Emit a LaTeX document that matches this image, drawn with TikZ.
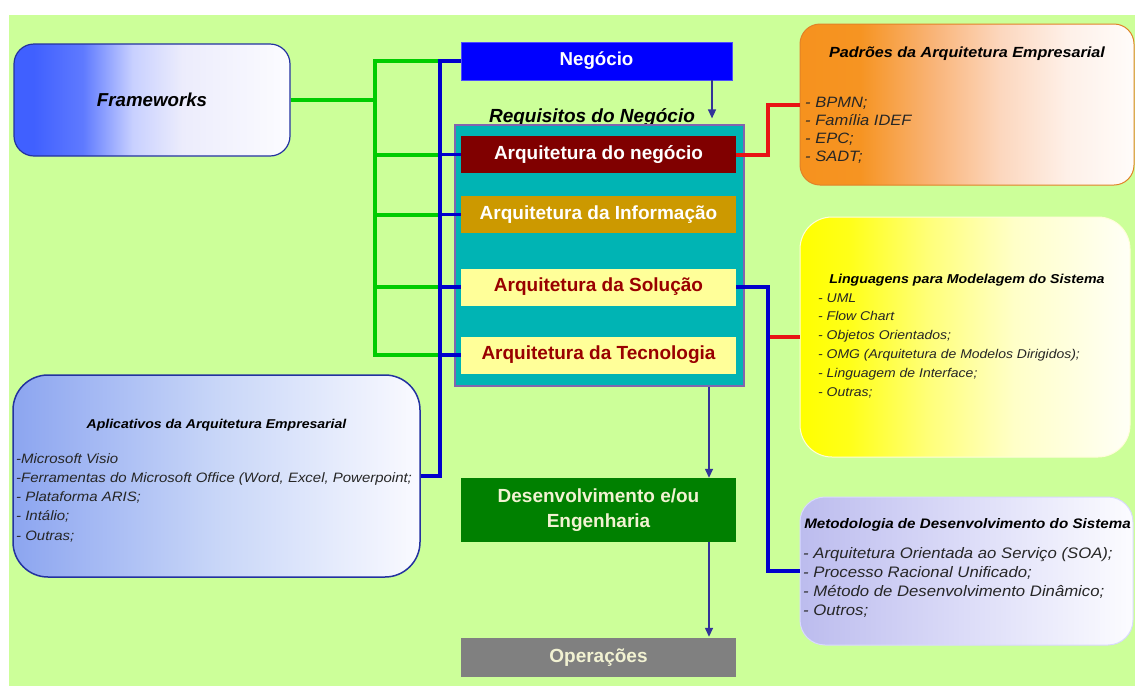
\documentclass[tikz,border=0pt]{standalone}
\usepackage{fontspec}
\setmainfont{Liberation Sans}
\newfontfamily\sidefont[FakeStretch=1.1]{Liberation Sans}
\usetikzlibrary{arrows.meta}

% palette
\definecolor{bggreen}{RGB}{204,255,153}
\definecolor{linkgreen}{RGB}{0,204,0}
\definecolor{linkblue}{RGB}{0,0,204}
\definecolor{linkred}{RGB}{232,20,20}
\definecolor{arrownavy}{RGB}{51,51,153}
\definecolor{negblue}{RGB}{0,0,255}
\definecolor{reqteal}{RGB}{0,180,180}
\definecolor{reqborder}{RGB}{130,100,175}
\definecolor{arqred}{RGB}{128,0,0}
\definecolor{arqgold}{RGB}{204,153,0}
\definecolor{arqyellow}{RGB}{255,255,153}
\definecolor{arqtext}{RGB}{153,0,0}
\definecolor{devgreen}{RGB}{0,128,0}
\definecolor{opgray}{RGB}{128,128,128}
\definecolor{cream}{RGB}{242,242,210}
\definecolor{itemgray}{RGB}{38,38,38}
\definecolor{fwborder}{RGB}{35,50,160}
\definecolor{padborder}{RGB}{225,130,40}

% gradient stops for the rounded boxes
\definecolor{fwA}{RGB}{64,96,255}
\definecolor{fwB}{RGB}{95,122,255}
\definecolor{fwC}{RGB}{200,208,255}
\definecolor{fwD}{RGB}{236,236,252}
\definecolor{fwE}{RGB}{252,252,255}
\pgfdeclarehorizontalshading{fwshade}{100bp}{color(0bp)=(fwA); color(28.5bp)=(fwA); color(37.5bp)=(fwB); color(46.5bp)=(fwC); color(55.5bp)=(fwD); color(75bp)=(fwE); color(100bp)=(fwE)}

\definecolor{paA}{RGB}{246,146,30}
\definecolor{paB}{RGB}{246,148,34}
\definecolor{paC}{RGB}{249,180,120}
\definecolor{paD}{RGB}{252,215,190}
\definecolor{paE}{RGB}{254,240,232}
\definecolor{paF}{RGB}{255,252,250}
\pgfdeclarehorizontalshading{padshade}{100bp}{color(0bp)=(paA); color(25bp)=(paA); color(34bp)=(paB); color(45bp)=(paC); color(55bp)=(paD); color(65bp)=(paE); color(75bp)=(paF); color(100bp)=(paF)}

\definecolor{lgA}{RGB}{255,255,0}
\definecolor{lgB}{RGB}{255,255,25}
\definecolor{lgC}{RGB}{255,255,125}
\definecolor{lgD}{RGB}{255,255,200}
\definecolor{lgE}{RGB}{255,255,246}
\pgfdeclarehorizontalshading{langshade}{100bp}{color(0bp)=(lgA); color(25bp)=(lgA); color(32.5bp)=(lgB); color(45bp)=(lgC); color(57.5bp)=(lgD); color(75bp)=(lgE); color(100bp)=(lgE)}

\definecolor{apA}{RGB}{140,165,240}
\definecolor{apB}{RGB}{200,214,248}
\definecolor{apC}{RGB}{250,250,255}
\pgfdeclarehorizontalshading{aplshade}{100bp}{color(0bp)=(apA); color(25bp)=(apA); color(50bp)=(apB); color(75bp)=(apC); color(100bp)=(apC)}

\definecolor{meA}{RGB}{188,188,238}
\definecolor{meB}{RGB}{220,220,248}
\definecolor{meC}{RGB}{252,252,255}
\pgfdeclarehorizontalshading{metshade}{100bp}{color(0bp)=(meA); color(25bp)=(meA); color(50bp)=(meB); color(75bp)=(meC); color(100bp)=(meC)}

\tikzset{
  flatbox/.style={rectangle, inner sep=0pt, minimum width=#1},
  arqbox/.style={flatbox=275pt, minimum height=37pt, font=\fontsize{19}{22}\selectfont\bfseries},
  gline/.style={draw=linkgreen, line width=4pt, line join=miter},
  bline/.style={draw=linkblue, line width=3.5pt, line join=miter},
  rline/.style={draw=linkred, line width=4pt, line join=miter},
  arr/.style={draw=arrownavy, line width=1.4pt, -{Triangle[width=8pt,length=9pt]}},
  sidetitle/.style={anchor=base, inner sep=0pt, text=black},
  sideitem/.style={anchor=base west, inner sep=0pt, text=itemgray},
}

\begin{document}
\begin{tikzpicture}[x=1pt,y=-1pt]
\useasboundingbox (0,0) rectangle (1135,686);
\fill[white] (0,0) rectangle (1135,686);
\fill[bggreen] (9,15) rectangle (1135,686);

% ---- rounded side boxes
\node[draw=fwborder, line width=1.2pt, shading=fwshade, rounded corners=20pt,
      minimum width=276pt, minimum height=112pt, inner sep=0pt,
      font=\fontsize{18.7}{22}\selectfont\bfseries\itshape] (fw) at (152,100) {Frameworks};

\node[draw=padborder, line width=1pt, shading=padshade, rounded corners=20pt,
      minimum width=334pt, minimum height=161pt, inner sep=0pt] (pad) at (967,104.5) {};
\node[draw=white!85!yellow, line width=1pt, shading=langshade, rounded corners=32pt,
      minimum width=330pt, minimum height=240pt, inner sep=0pt] (lang) at (965,337) {};
\node[draw=white!85!blue, line width=1pt, shading=metshade, rounded corners=25pt,
      minimum width=333pt, minimum height=148pt, inner sep=0pt] (met) at (966.5,571) {};
\node[draw=fwborder, line width=1.5pt, shading=aplshade, rounded corners=35pt,
      minimum width=407pt, minimum height=202pt, inner sep=0pt] (apl) at (216.5,476) {};

% ---- central column
\node[flatbox=271pt, minimum height=38pt, fill=negblue, draw=blue!70!white, line width=0.8pt,
      text=white, font=\fontsize{18.7}{22}\selectfont\bfseries] (neg) at (596.5,61) {Negócio};
\node[anchor=base, inner sep=0pt, font=\fontsize{19}{22}\selectfont\bfseries\itshape] (req) at (592,122) {Requisitos do Negócio};
\node[flatbox=289pt, minimum height=261pt, fill=reqteal, draw=reqborder, line width=1.2pt] (teal) at (599.5,255.5) {};
\node[arqbox, fill=arqred, text=white] (arqneg) at (598.5,154.5) {Arquitetura do negócio};
\node[arqbox, fill=arqgold, text=white] (arqinf) at (598.5,214.5) {Arquitetura da Informação};
\node[arqbox, fill=arqyellow, text=arqtext] (arqsol) at (598.5,287) {Arquitetura da Solução};
\node[arqbox, fill=arqyellow, text=arqtext] (arqtec) at (598.5,355) {Arquitetura da Tecnologia};
\node[flatbox=275pt, minimum height=64pt, fill=devgreen, text=cream, align=center,
      font=\fontsize{19}{25}\selectfont\bfseries] (dev) at (598.5,510) {Desenvolvimento e/ou\\Engenharia};
\node[flatbox=275pt, minimum height=39pt, fill=opgray, text=cream,
      font=\fontsize{19}{22}\selectfont\bfseries] (ops) at (598.5,657.5) {Operações};

% ---- bus positions
\coordinate (gx) at (375,0);
\coordinate (bx) at (440,0);
\coordinate (rx) at (768,0);
\coordinate (ax1) at (712,0);
\coordinate (ax2) at (709,0);

% green bus from Frameworks
\draw[gline] (fw.east) -- (gx |- fw.east);
\draw[gline] (bx |- neg.west) -- (gx |- neg.west) -- (gx |- arqtec.west) -- (bx |- arqtec.west);
\foreach \b in {arqneg,arqinf,arqsol} \draw[gline] (gx |- \b.west) -- (bx |- \b.west);

% blue bus from the applications box
\draw[bline] (neg.west) -- (bx |- neg.west) -- (bx |- apl.east) -- (apl.east);
\foreach \b in {arqneg,arqinf,arqsol,arqtec} \draw[bline] (bx |- \b.west) -- (\b.west);

% right-hand links
\draw[rline] (arqneg.east) -| (rx |- pad.west) -- (pad.west);
\draw[rline] (rx |- lang.west) -- (lang.west);
\draw[bline] (arqsol.east) -| (rx |- met.west) -- (met.west);

% flow arrows
\draw[arr, shorten >=6pt] (neg.south -| ax1) -- (teal.north -| ax1);
\draw[arr] (teal.south -| ax2) -- (dev.north -| ax2);
\draw[arr, shorten >=1pt] (dev.south -| ax2) -- (ops.north -| ax2);

% ---- texts of the side boxes
\node[sidetitle, font=\sidefont\fontsize{14.7}{18}\selectfont\bfseries\itshape] (padt) at (967,57) {Padrões da Arquitetura Empresarial};
\foreach \t [count=\i] in {{- BPMN;},{- Família IDEF},{- EPC;},{- SADT;}}
  \node[sideitem, font=\sidefont\fontsize{15}{18}\selectfont\itshape] (padi\i) at (805,{107+18*(\i-1)}) {\t};

\node[sidetitle, font=\sidefont\fontsize{12.9}{16}\selectfont\bfseries\itshape] (langt) at (967,283) {Linguagens para Modelagem do Sistema};
\foreach \t [count=\i] in {{- UML},{- Flow Chart},{- Objetos Orientados;},{- OMG (Arquitetura de Modelos Dirigidos);},{- Linguagem de Interface;},{- Outras;}}
  \node[sideitem, font=\sidefont\fontsize{12.7}{16}\selectfont\itshape] (langi\i) at (818,{302+18.8*(\i-1)}) {\t};

\node[sidetitle, font=\sidefont\fontsize{13.8}{17}\selectfont\bfseries\itshape] (mett) at (967.5,528) {Metodologia de Desenvolvimento do Sistema};
\foreach \t [count=\i] in {{- Arquitetura Orientada ao Serviço (SOA);},{- Processo Racional Unificado;},{- Método de Desenvolvimento Dinâmico;},{- Outros;}}
  \node[sideitem, font=\sidefont\fontsize{15.2}{18}\selectfont\itshape] (meti\i) at (803,{558+19*(\i-1)}) {\t};

\node[sidetitle, font=\sidefont\fontsize{12.8}{16}\selectfont\bfseries\itshape] (aplt) at (216.5,428) {Aplicativos da Arquitetura Empresarial};
\foreach \t [count=\i] in {{-Microsoft Visio},{-Ferramentas do Microsoft Office (Word, Excel, Powerpoint;},{- Plataforma ARIS;},{- Intálio;},{- Outras;}}
  \node[sideitem, font=\sidefont\fontsize{13.6}{17}\selectfont\itshape] (apli\i) at (16,{463+19.3*(\i-1)}) {\t};
\end{tikzpicture}
\end{document}
